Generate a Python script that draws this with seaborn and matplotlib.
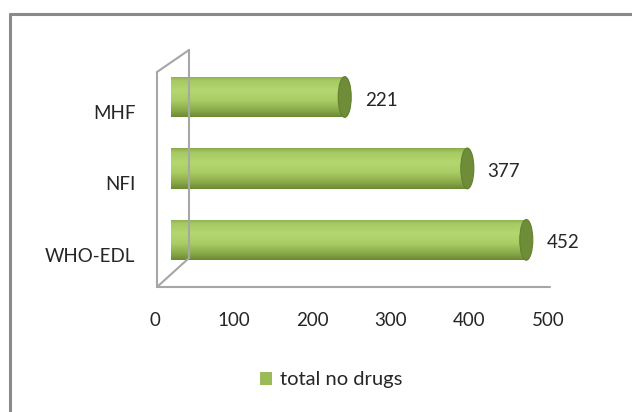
import numpy as np
import pandas as pd
import seaborn as sns
import matplotlib
matplotlib.use("Agg")
import matplotlib.pyplot as plt
from matplotlib.transforms import ScaledTranslation
from matplotlib.patches import Ellipse, Patch
from matplotlib.lines import Line2D
from matplotlib.colors import LinearSegmentedColormap

categories = ["MHF", "NFI", "WHO-EDL"]
values = [221, 377, 452]
xticks = [0, 100, 200, 300, 400, 500]
series_name = "total no drugs"

sns.set_style("white")
plt.rcParams['font.family'] = ['Lato', 'DejaVu Sans']
TXT = "#262626"

W, H = 632, 412
fig = plt.figure(figsize=(W / 100, H / 100), dpi=100)

# axes: x 0..500 -> px 155..548 ; front plane y 72..287
ax = fig.add_axes([155 / W, (H - 287) / H, 393 / W, 215 / H])
df = pd.DataFrame({"cat": categories, "val": values})
sns.barplot(data=df, x="val", y="cat", orient="h", color="#9bbb59",
            width=0.57, ax=ax, zorder=3)
ax.set_xlim(0, 500)
ax.set_ylim(2.45, -0.56)

# 3D depth offset for the bars
dx, dy = 16, 15
tr = ax.transData + ScaledTranslation(dx / 100, dy / 100, fig.dpi_scale_trans)

cmap = LinearSegmentedColormap.from_list(
    "cyl", [(0.0, "#8aab4c"), (0.1, "#a6c963"), (0.35, "#b5d770"),
            (0.6, "#a9cc64"), (0.85, "#88a848"), (1.0, "#6c8a35")])
grad = np.linspace(0, 1, 100).reshape(-1, 1)
cap_w = 13 / (393 / 500)

for p, v in zip(ax.patches, values):
    x0, y0, w, h = p.get_x(), p.get_y(), p.get_width(), p.get_height()
    p.set_transform(tr)
    p.set_edgecolor("none")
    im = ax.imshow(grad, extent=[x0, x0 + w, y0 + h, y0], origin="upper",
                   aspect="auto", cmap=cmap, transform=tr, zorder=3.5,
                   interpolation="bilinear")
    im.set_clip_path(p)
    cap = Ellipse((x0 + w, y0 + h / 2), width=cap_w, height=h, transform=tr,
                  facecolor="#6f8d39", edgecolor="#62802f", lw=0.8, zorder=4)
    ax.add_patch(cap)
    ax.text(x0 + w, y0 + h / 2, f"{v}", fontsize=13.5, color=TXT,
            va="center", ha="left",
            transform=ax.transData + ScaledTranslation(36 / 100, 12 / 100, fig.dpi_scale_trans))

ax.set_xlim(0, 500)
ax.set_ylim(2.45, -0.56)
ax.set_xticks(xticks)
ax.set_xticklabels([str(t) for t in xticks])
ax.set_xlabel("")
ax.set_ylabel("")
ax.tick_params(axis="x", length=0, pad=18, labelsize=13.5, labelcolor=TXT)
ax.tick_params(axis="y", length=0, pad=14, labelsize=13.5, labelcolor=TXT)
for s in ax.spines.values():
    s.set_visible(False)
ax.patch.set_alpha(0)

# walls / floor (decoration in pixel coordinates)
def fline(xs, ys, color="#a6a6a6", lw=1.5, z=1):
    fig.add_artist(Line2D([x / W for x in xs], [1 - y / H for y in ys],
                          transform=fig.transFigure, color=color, lw=lw, zorder=z))

fline([157, 157], [72, 287])
fline([157, 550], [287, 287])
fline([157, 189], [287, 258])
fline([189, 189], [258, 50])
fline([157, 189], [72, 50])

# chart-area border
fline([10, 632], [14, 14], color="#8a8a8a", lw=2.2, z=5)
fline([10, 10], [14, 412], color="#8a8a8a", lw=2.2, z=5)

handle = Patch(facecolor="#9bbb59", edgecolor="none", label=series_name)
fig.legend(handles=[handle], loc="center", bbox_to_anchor=(331 / W, 1 - 380 / H),
           frameon=False, fontsize=14.5, handlelength=0.6, handleheight=0.6,
           handletextpad=0.4, labelcolor=TXT)

fig.savefig("out.png", dpi=100)
